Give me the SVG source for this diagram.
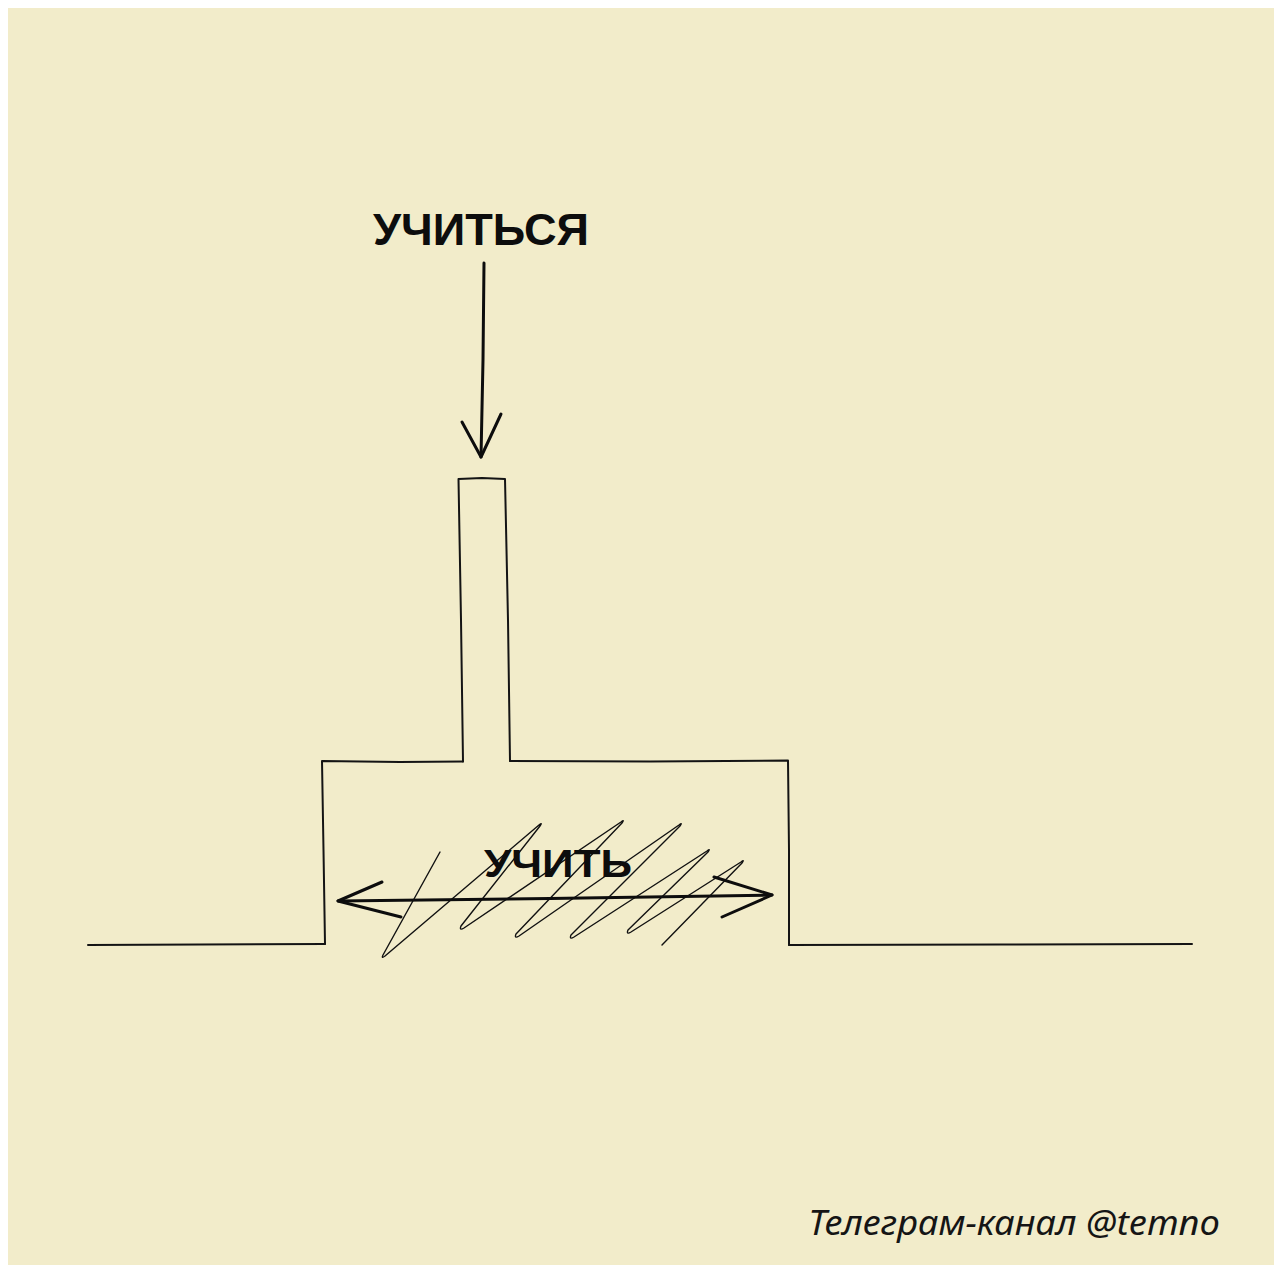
<svg xmlns="http://www.w3.org/2000/svg" width="1274" height="1265" viewBox="0 0 1274 1265">
<style>
.ln{fill:none;stroke:#141414;stroke-width:2;stroke-linecap:round;stroke-linejoin:round}
.th{fill:none;stroke:#111;stroke-width:1.4;stroke-linecap:round;stroke-linejoin:round}
.ar{fill:none;stroke:#0d0d0d;stroke-width:3;stroke-linecap:round;stroke-linejoin:round}
.hw{font-family:"Liberation Sans","DejaVu Sans",sans-serif;font-weight:bold;fill:#0d0d0d}
.ft{font-family:"Noto Sans","Open Sans",sans-serif;font-style:italic;fill:#151515}
</style>
<rect x="0" y="0" width="1274" height="1265" fill="#ffffff"/>
<rect x="8" y="8" width="1266" height="1257" fill="#f2ecca"/>
<g id="ground-left"><path class="ln" d="M88 945 L200 944.5 L325 944"/></g>
<g id="ground-right"><path class="ln" d="M789 945 L1000 944.5 L1192 944"/></g>
<g id="base">
<path class="ln" d="M325 944 L323.5 850 L322 761 L400 762 L463 761.5"/>
<path class="ln" d="M510 761 L650 761.5 L788 760.5 L789 850 L789 945"/>
</g>
<g id="stem">
<path class="ln" d="M463 761.5 L461 620 L458.5 479 L482 478 L505 479 L508 620 L510 761"/>
</g>
<g id="hatch">
<path class="th" d="M440 852 L383 955 Q381 959 385 956 L539 825 Q543 822 540 826 L461 926 Q459 931 464 928 L621 822 Q625 819 622 823 L516 934 Q514 939 519 936 L679 825 Q683 822 680 826 L571 935 Q569 940 574 937 L707 851 Q711 848 708 852 L628 930 Q626 935 631 932 L741 862 Q745 859 742 863 L662 945"/>
</g>
<g id="label-learn-self">
<text class="hw" x="373" y="245" font-size="44" textLength="216" lengthAdjust="spacingAndGlyphs">УЧИТЬСЯ</text>
</g>
<g id="label-teach">
<text class="hw" x="484" y="877" font-size="38" textLength="148" lengthAdjust="spacingAndGlyphs">УЧИТЬ</text>
</g>
<g id="connectors">
<path class="ar" d="M484 263 L483 360 L481 457"/>
<path class="ar" d="M462 422 L481 457 L501 414"/>
<path class="ar" stroke-width="4" d="M338 901 L550 898.5 L772 895"/>
<path class="ar" stroke-width="4" d="M382 882 L338 901 L401 917"/>
<path class="ar" stroke-width="4" d="M714 877 L772 895 L722 917"/>
</g>
<g id="footer">
<text class="ft" x="808" y="1235" font-size="35" textLength="412" lengthAdjust="spacingAndGlyphs">Телеграм-канал @temno</text>
</g>
</svg>
